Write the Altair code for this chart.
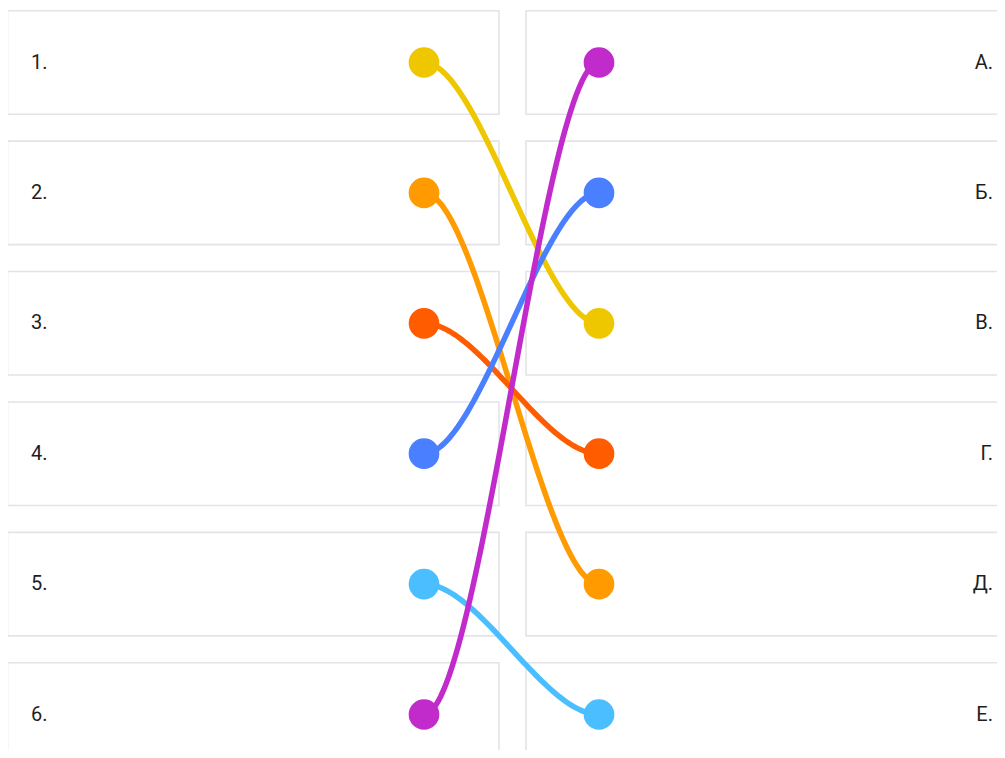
import altair as alt
import pandas as pd

# ---- data ----
left_labels = ["1.", "2.", "3.", "4.", "5.", "6."]
right_labels = ["А.", "Б.", "В.", "Г.", "Д.", "Е."]
# each left item is matched with one right item
matches = ["В.", "Д.", "Г.", "Б.", "Е.", "А."]
pair_colors = ["#EEC700", "#FF9A00", "#FF5C00", "#4A7FFF", "#4ABEFF", "#C22BCB"]

# ---- layout (chart pixel units on x, row units on y) ----
W, H = 989, 742
ROW0_PX, ROW_STEP = 54.5, 130.4
BOX_HALF = 0.397
LEFT_BOX = (-0.5, 491)
RIGHT_BOX = (518, 1012)
DOT_L, DOT_R = 416, 591
LABEL_L, LABEL_R = 23, 985
CTRL = 55
BOX_STROKE = "#E3E3E9"

y_dom = [-ROW0_PX / ROW_STEP, (H - ROW0_PX) / ROW_STEP]

xs = alt.Scale(domain=[0, W], nice=False, zero=False)
ys = alt.Scale(domain=y_dom, nice=False, zero=False, reverse=True)

rows = []
for i, lab in enumerate(left_labels):
    rows.append({"side": "L", "row": i, "label": lab,
                 "x1": LEFT_BOX[0], "x2": LEFT_BOX[1],
                 "y1": i - BOX_HALF, "y2": i + BOX_HALF, "tx": LABEL_L})
for j, lab in enumerate(right_labels):
    rows.append({"side": "R", "row": j, "label": lab,
                 "x1": RIGHT_BOX[0], "x2": RIGHT_BOX[1],
                 "y1": j - BOX_HALF, "y2": j + BOX_HALF, "tx": LABEL_R})
boxes = pd.DataFrame(rows)

dots = []
curves = []
for i, (lab, m) in enumerate(zip(left_labels, matches)):
    j = right_labels.index(m)
    dots.append({"key": lab, "x": DOT_L, "row": i, "o": i})
    dots.append({"key": lab, "x": DOT_R, "row": j, "o": i})
    p = [(DOT_L, i), (DOT_L + CTRL, i), (DOT_R - CTRL, j), (DOT_R, j)]
    n = 60
    for k in range(n + 1):
        t = k / n
        a, b, c, d = (1 - t) ** 3, 3 * (1 - t) ** 2 * t, 3 * (1 - t) * t ** 2, t ** 3
        curves.append({"key": lab, "o": i, "t": k,
                       "x": a * p[0][0] + b * p[1][0] + c * p[2][0] + d * p[3][0],
                       "row": a * p[0][1] + b * p[1][1] + c * p[2][1] + d * p[3][1]})
dots = pd.DataFrame(dots)
curves = pd.DataFrame(curves)

color = alt.Color("key:N", scale=alt.Scale(domain=left_labels, range=pair_colors), legend=None)

box_layer = alt.Chart(boxes).mark_rect(fill="white", stroke=BOX_STROKE, strokeWidth=1.6).encode(
    x=alt.X("x1:Q", scale=xs, axis=None),
    x2="x2:Q",
    y=alt.Y("y1:Q", scale=ys, axis=None),
    y2="y2:Q",
)

left_text = alt.Chart(boxes[boxes.side == "L"]).mark_text(
    align="left", baseline="middle", font="Roboto", fontSize=20, color="#1E1E1E"
).encode(x=alt.X("tx:Q", scale=xs, axis=None), y=alt.Y("row:Q", scale=ys, axis=None), text="label:N")

right_text = alt.Chart(boxes[boxes.side == "R"]).mark_text(
    align="right", baseline="middle", font="Roboto", fontSize=20, color="#1E1E1E"
).encode(x=alt.X("tx:Q", scale=xs, axis=None), y=alt.Y("row:Q", scale=ys, axis=None), text="label:N")

line_layer = alt.Chart(curves).mark_line(strokeWidth=5.5, strokeCap="round").encode(
    x=alt.X("x:Q", scale=xs, axis=None),
    y=alt.Y("row:Q", scale=ys, axis=None),
    color=color,
    detail="o:O",
    order="t:Q",
)

dot_layer = alt.Chart(dots).mark_circle(size=940, opacity=1).encode(
    x=alt.X("x:Q", scale=xs, axis=None),
    y=alt.Y("row:Q", scale=ys, axis=None),
    color=color,
)

chart = alt.layer(box_layer, left_text, right_text, line_layer, dot_layer).properties(
    width=W, height=H, padding=0, autosize=alt.AutoSizeParams(type="none")
).configure_view(stroke=None)

chart.save("out.html", embed_options={"renderer": "svg", "actions": False})
